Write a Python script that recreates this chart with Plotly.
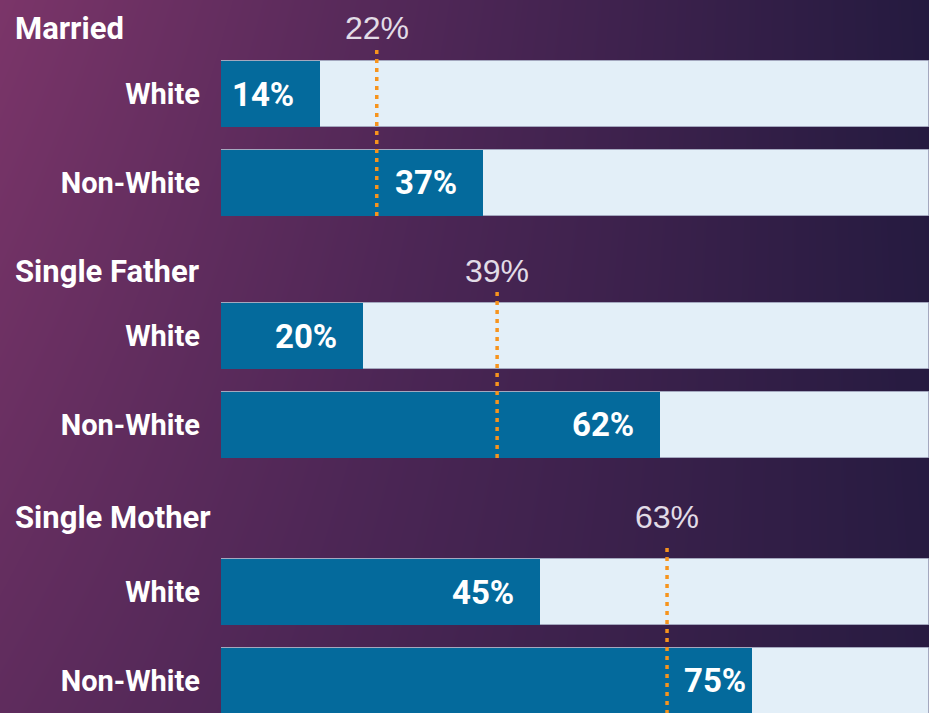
import plotly.graph_objects as go

# data
groups = ["Married", "Single Father", "Single Mother"]
races = ["White", "Non-White"]
white_pct = [14, 20, 45]
nonwhite_pct = [37, 62, 75]
avg_pct = [22, 39, 63]

# layout constants (pixels)
W, H = 929, 713
BAR_LEFT = 221
GROUP_TOP = [50, 292, 548]
HEADER_Y = [28, 271, 517]
ROW_STEP = 88.5

DARK = "#046a9c"
LIGHT = "#e3eff8"
ORANGE = "#f7941d"
LABEL_FONT = "Roboto, Arial, sans-serif"


def py(px):
    return 1 - px / H


fig = go.Figure()

# background gradient
fig.add_trace(go.Heatmap(
    x=[0, 1], y=[0, 1], z=[[0.3, 0.95], [0.0, 1.0]],
    zsmooth="best", showscale=False, hoverinfo="skip",
    colorscale=[[0, "#7b3569"], [0.5, "#4c2655"], [1, "#241a3f"]],
    zmin=0, zmax=1, xaxis="x", yaxis="y",
))
layout = dict(
    xaxis=dict(domain=[0, 1], range=[0, 1], visible=False, fixedrange=True),
    yaxis=dict(domain=[0, 1], range=[0, 1], visible=False, fixedrange=True),
)

annotations = []
shapes = []

for i, g in enumerate(groups):
    n = i + 2
    xa, ya = f"x{n}", f"y{n}"
    top = GROUP_TOP[i]
    bottom = min(top + 2 * ROW_STEP, H)
    r_bottom = (bottom - top) / ROW_STEP - 0.5
    vals = [white_pct[i], nonwhite_pct[i]]

    fig.add_trace(go.Bar(
        x=[100, 100], y=races, orientation="h", width=0.75,
        marker=dict(color=LIGHT, line=dict(width=1, color="#a4a8bf")),
        xaxis=xa, yaxis=ya, hoverinfo="skip", showlegend=False,
    ))
    fig.add_trace(go.Bar(
        x=vals, y=races, orientation="h", width=0.75,
        marker=dict(color=DARK, line=dict(width=0)),
        xaxis=xa, yaxis=ya, showlegend=False,
    ))

    layout[f"xaxis{n}"] = dict(
        domain=[BAR_LEFT / W, 1], range=[0, 100], visible=False,
        anchor=ya, fixedrange=True,
    )
    layout[f"yaxis{n}"] = dict(
        domain=[py(bottom), py(top)], range=[r_bottom, -0.5],
        anchor=xa, type="category", showgrid=False, zeroline=False,
        showline=False, ticks="", ticklabelstandoff=20,
        tickfont=dict(family=LABEL_FONT, size=29, color="white", weight="bold"),
        fixedrange=True,
    )

    # group header
    annotations.append(dict(
        text=g, xref="paper", yref="paper", x=13 / W, y=py(HEADER_Y[i]),
        xanchor="left", yanchor="middle", showarrow=False,
        font=dict(family=LABEL_FONT, size=31, color="white", weight="bold"),
    ))

    # average marker
    avg = avg_pct[i]
    shapes.append(dict(
        type="line", xref=xa, yref=ya, x0=avg, x1=avg, y0=-0.5, y1=1.375,
        line=dict(color=ORANGE, width=3.5, dash="4px,5px"),
    ))
    annotations.append(dict(
        text=f"{avg}%", xref=xa, yref="paper", x=avg, y=py(HEADER_Y[i]),
        xanchor="center", yanchor="middle", showarrow=False,
        font=dict(family="Liberation Sans, Arial, sans-serif", size=32, color="#e2dce6"),
    ))

    # value labels, nudged right when they would sit on the average line
    avg_px = BAR_LEFT + avg / 100 * (W - BAR_LEFT)
    for race, v in zip(races, vals):
        end_px = BAR_LEFT + v / 100 * (W - BAR_LEFT)
        shift = -24
        if end_px + shift - 64 <= avg_px <= end_px:
            shift = -4
        annotations.append(dict(
            text=f"{v}%", xref=xa, yref=ya, x=v, y=race,
            xanchor="right", yanchor="middle", xshift=shift, showarrow=False,
            font=dict(family=LABEL_FONT, size=33, color="white", weight="bold"),
        ))

fig.update_layout(
    **layout,
    width=W, height=H, autosize=False,
    margin=dict(l=0, r=0, t=0, b=0),
    paper_bgcolor="#4c2655", plot_bgcolor="rgba(0,0,0,0)",
    barmode="overlay", bargap=0, showlegend=False,
    annotations=annotations, shapes=shapes,
)

fig.write_html(
    "out.html",
    config={"displayModeBar": False},
    post_script="document.body.style.margin='0';document.body.style.overflow='hidden';",
)
